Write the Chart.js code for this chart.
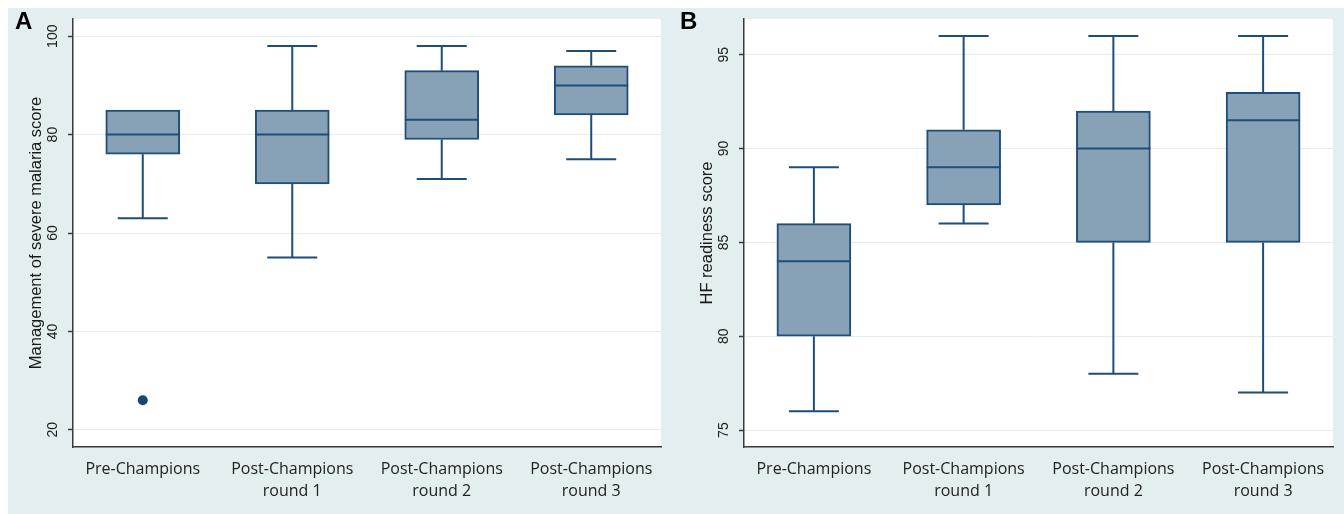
<!DOCTYPE html>
<html><head><meta charset="utf-8">
<script src="https://cdn.jsdelivr.net/npm/chart.js@4.4.1/dist/chart.umd.min.js"></script>
<style>
html,body{margin:0;padding:0;background:#fff;}
#wrap{position:absolute;left:8px;top:8px;width:1336px;height:506px;background:#e2eef0;}
#boxA{position:absolute;left:0;top:0;width:658px;height:506px;}
#boxB{position:absolute;left:658px;top:0;width:678px;height:506px;}
</style></head><body>
<div id="wrap"><div id="boxA"><canvas id="cA"></canvas></div><div id="boxB"><canvas id="cB"></canvas></div></div>
<script>
// ---- data ----
const categories = ['Pre-Champions', 'Post-Champions round 1', 'Post-Champions round 2', 'Post-Champions round 3'];

// Panel A: Management of severe malaria score
const malariaLower  = [63, 55, 71, 75];
const malariaQ1     = [76, 70, 79, 84];
const malariaMedian = [80, 80, 83, 90];
const malariaQ3     = [85, 85, 93, 94];
const malariaUpper  = [85, 98, 98, 97];
const malariaOutlierCategory = [0];
const malariaOutlierValue    = [26];
const malariaTicks = [20, 40, 60, 80, 100];

// Panel B: HF readiness score
const hfLower  = [76, 86, 78, 77];
const hfQ1     = [80, 87, 85, 85];
const hfMedian = [84, 89, 90, 91.5];
const hfQ3     = [86, 91, 92, 93];
const hfUpper  = [89, 96, 96, 96];
const hfOutlierCategory = [];
const hfOutlierValue    = [];
const hfTicks = [75, 80, 85, 90, 95];

// ---- styles ----
const BOX_FILL = '#87a2b7';
const BOX_LINE = '#1e4d78';
const AXIS_COL = '#3a3a3a';
const GRID_COL = '#e2edf1';
const TEXT_COL = '#1a1a1a';
const SANS = '"Liberation Sans", Arial, sans-serif';

function splitLabel(s) {
  const k = s.indexOf(' round');
  return k > 0 ? [s.slice(0, k), s.slice(k + 1)] : s;
}

function makePanel(canvasId, p) {
  const boxPlugin = {
    id: 'boxExtras',
    beforeDraw(chart) {
      const {ctx, chartArea: a} = chart;
      ctx.save();
      ctx.fillStyle = '#ffffff';
      ctx.fillRect(a.left, a.top, a.right - a.left, a.bottom - a.top);
      ctx.restore();
    },
    afterDatasetsDraw(chart) {
      const {ctx, scales: {y}} = chart;
      const meta = chart.getDatasetMeta(0);
      ctx.save();
      ctx.strokeStyle = BOX_LINE;
      ctx.lineWidth = 2;
      meta.data.forEach((bar, i) => {
        const cx = bar.x, hw = bar.width / 2, capHw = 25;
        const yLo = y.getPixelForValue(p.lower[i]);
        const yQ1 = y.getPixelForValue(p.q1[i]);
        const yMed = y.getPixelForValue(p.median[i]);
        const yQ3 = y.getPixelForValue(p.q3[i]);
        const yHi = y.getPixelForValue(p.upper[i]);
        ctx.beginPath();
        ctx.moveTo(cx - hw, yMed); ctx.lineTo(cx + hw, yMed);
        if (p.upper[i] > p.q3[i]) {
          ctx.moveTo(cx, yQ3); ctx.lineTo(cx, yHi);
          ctx.moveTo(cx - capHw, yHi); ctx.lineTo(cx + capHw, yHi);
        }
        if (p.lower[i] < p.q1[i]) {
          ctx.moveTo(cx, yQ1); ctx.lineTo(cx, yLo);
          ctx.moveTo(cx - capHw, yLo); ctx.lineTo(cx + capHw, yLo);
        }
        ctx.stroke();
      });
      ctx.restore();
    },
    afterDraw(chart) {
      const {ctx, scales: {y}} = chart;
      ctx.save();
      ctx.fillStyle = TEXT_COL;
      ctx.font = '14px ' + SANS;
      ctx.textAlign = 'center';
      ctx.textBaseline = 'middle';
      p.ticks.forEach(v => {
        const py = y.getPixelForValue(v);
        ctx.save();
        ctx.translate(y.right - 20, py);
        ctx.rotate(-Math.PI / 2);
        ctx.fillText(String(v), 0, 0);
        ctx.restore();
      });
      ctx.font = 'bold 24px ' + SANS;
      ctx.fillStyle = '#000';
      ctx.textAlign = 'left';
      ctx.textBaseline = 'alphabetic';
      ctx.fillText(p.letter, p.letterX, 21);
      ctx.restore();
    }
  };

  return new Chart(document.getElementById(canvasId), {
    type: 'bar',
    data: {
      datasets: [
        {
          type: 'bar',
          data: categories.map((c, i) => ({x: i, y: [p.q1[i], p.q3[i]]})),
          backgroundColor: BOX_FILL,
          borderColor: BOX_LINE,
          borderWidth: 2,
          borderSkipped: false,
          barThickness: 74
        },
        {
          type: 'scatter',
          data: p.outCat.map((c, i) => ({x: c, y: p.outVal[i]})),
          backgroundColor: '#15457a',
          borderWidth: 0,
          pointRadius: 5
        }
      ]
    },
    options: {
      responsive: true,
      maintainAspectRatio: false,
      animation: false,
      events: [],
      layout: {padding: {left: p.padLeft, right: p.padRight, top: 11, bottom: 0}},
      plugins: {legend: {display: false}, tooltip: {enabled: false}},
      scales: {
        x: {
          type: 'linear',
          offset: false,
          min: -0.4667,
          max: 3.4667,
          afterBuildTicks: s => { s.ticks = categories.map((c, i) => ({value: i})); },
          afterFit: s => { s.height = 67; },
          ticks: {
            callback: v => splitLabel(categories[v]),
            font: {family: '"Open Sans", sans-serif', size: 16, lineHeight: 1.4},
            color: '#222222',
            padding: 11,
            maxRotation: 0,
            minRotation: 0,
            autoSkip: false
          },
          grid: {display: false, drawTicks: false},
          border: {display: true, color: AXIS_COL, width: 1.5}
        },
        y: {
          type: 'linear',
          min: p.yMin,
          max: p.yMax,
          afterBuildTicks: s => { s.ticks = p.ticks.map(v => ({value: v})); },
          afterFit: s => { s.width = p.padTitle; },
          ticks: {display: false},
          grid: {color: GRID_COL, lineWidth: 1, drawTicks: true, tickLength: 5, tickColor: AXIS_COL, tickWidth: 1.5},
          border: {display: true, color: AXIS_COL, width: 1.5},
          title: {
            display: true,
            text: p.title,
            font: {family: SANS, size: 16.5},
            color: TEXT_COL,
            padding: 0
          }
        }
      }
    },
    plugins: [boxPlugin]
  });
}

makePanel('cA', {
  letter: 'A', letterX: 7, title: 'Management of severe malaria score',
  lower: malariaLower, q1: malariaQ1, median: malariaMedian, q3: malariaQ3, upper: malariaUpper,
  outCat: malariaOutlierCategory, outVal: malariaOutlierValue, ticks: malariaTicks,
  yMin: 16.5, yMax: 103.5, padLeft: 19, padRight: 3, padTitle: 46
});
makePanel('cB', {
  letter: 'B', letterX: 14, title: 'HF readiness score',
  lower: hfLower, q1: hfQ1, median: hfMedian, q3: hfQ3, upper: hfUpper,
  outCat: hfOutlierCategory, outVal: hfOutlierValue, ticks: hfTicks,
  yMin: 74.1, yMax: 96.9, padLeft: 32, padRight: 11, padTitle: 46
});
</script>
</body></html>
